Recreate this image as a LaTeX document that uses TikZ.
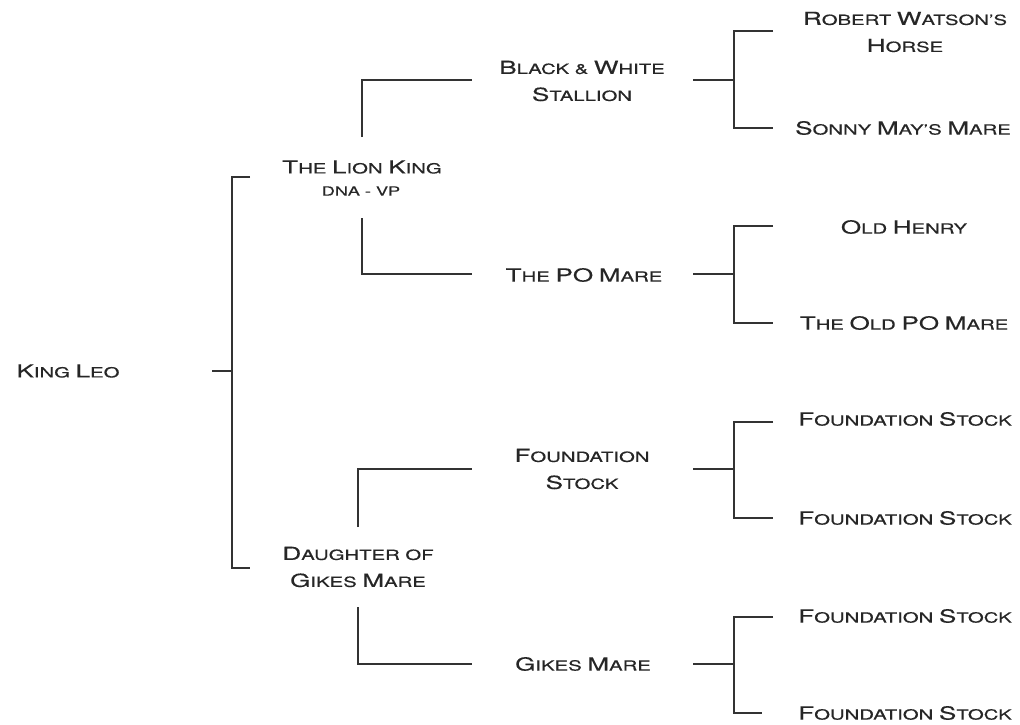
\documentclass[tikz,border=0pt]{standalone}
\usepackage{fontspec}
\setmainfont[FakeStretch=1.45,FakeBold=0.4]{TeX Gyre Heros}
\newcommand\BC[1]{{\fontsize{18}{27}\selectfont #1}}
\begin{document}
\begin{tikzpicture}[x=1pt,y=-1pt,
  every node/.style={inner sep=0pt, align=center, text=black!85},
  horsename/.style={font=\fontsize{14}{27}\selectfont},
  smalltag/.style={font=\fontsize{12.5}{14}\selectfont},
  link/.style={line width=1.3pt, draw=black!80}]
\useasboundingbox (0,0) rectangle (1020,725);
% generation 1
\node[horsename] (kingleo) at (68,371) {\BC{K}ING \BC{L}EO};
% generation 2
\node[horsename] (lionking) at (362,167) {\BC{T}HE \BC{L}ION \BC{K}ING};
\node[smalltag] (dnavp) at (361,191) {DNA - VP};
\node[horsename] (daughter) at (358,567) {\BC{D}AUGHTER OF\\\BC{G}IKES \BC{M}ARE};
% generation 3
\node[horsename] (bwstallion) at (582,81) {\BC{B}LACK \& \BC{W}HITE\\\BC{S}TALLION};
\node[horsename] (pomare) at (584,275) {\BC{T}HE \BC{PO} \BC{M}ARE};
\node[horsename] (fstock) at (582,469) {\BC{F}OUNDATION\\\BC{S}TOCK};
\node[horsename] (gikes) at (583,664) {\BC{G}IKES \BC{M}ARE};
% generation 4
\node[horsename] (watson) at (905,32) {\BC{R}OBERT \BC{W}ATSON'S\\\BC{H}ORSE};
\node[horsename] (sonny) at (903,128) {\BC{S}ONNY \BC{M}AY'S \BC{M}ARE};
\node[horsename] (henry) at (904,227) {\BC{O}LD \BC{H}ENRY};
\node[horsename] (oldpo) at (904,323) {\BC{T}HE \BC{O}LD \BC{PO} \BC{M}ARE};
\node[horsename] (fs1) at (905,419) {\BC{F}OUNDATION \BC{S}TOCK};
\node[horsename] (fs2) at (905,518) {\BC{F}OUNDATION \BC{S}TOCK};
\node[horsename] (fs3) at (905,616) {\BC{F}OUNDATION \BC{S}TOCK};
\node[horsename] (fs4) at (905,713) {\BC{F}OUNDATION \BC{S}TOCK};
% connector points
\coordinate (kl-s) at (212,371); \coordinate (kl-j) at (232,371);
\coordinate (kl-t) at (250,177); \coordinate (kl-b) at (250,568);
\coordinate (lk-t) at (362,137); \coordinate (lk-tc) at (362,80); \coordinate (lk-te) at (472,80);
\coordinate (lk-b) at (362,218); \coordinate (lk-bc) at (362,274); \coordinate (lk-be) at (472,274);
\coordinate (dg-t) at (358,527); \coordinate (dg-tc) at (358,469); \coordinate (dg-te) at (472,469);
\coordinate (dg-b) at (358,607); \coordinate (dg-bc) at (358,664); \coordinate (dg-be) at (472,664);
% generation 1 bracket
\draw[link] (kl-s) -- (kl-j);
\draw[link] (kl-t) -| (kl-j) |- (kl-b);
% generation 2 brackets
\draw[link] (lk-t) -- (lk-tc) -- (lk-te);
\draw[link] (lk-b) -- (lk-bc) -- (lk-be);
\draw[link] (dg-t) -- (dg-tc) -- (dg-te);
\draw[link] (dg-b) -- (dg-bc) -- (dg-be);
% generation 3 brackets
\foreach \n/\y/\a/\b/\e in {bw/80/31/128/773, po/274/226/323/773, fs/469/422/518/773, gk/664/617/713/762}{
  \coordinate (\n-s) at (693,\y); \coordinate (\n-j) at (734,\y);
  \coordinate (\n-t) at (773,\a); \coordinate (\n-b) at (\e,\b);
  \draw[link] (\n-s) -- (\n-j);
  \draw[link] (\n-t) -| (\n-j) |- (\n-b);
}
\end{tikzpicture}
\end{document}
